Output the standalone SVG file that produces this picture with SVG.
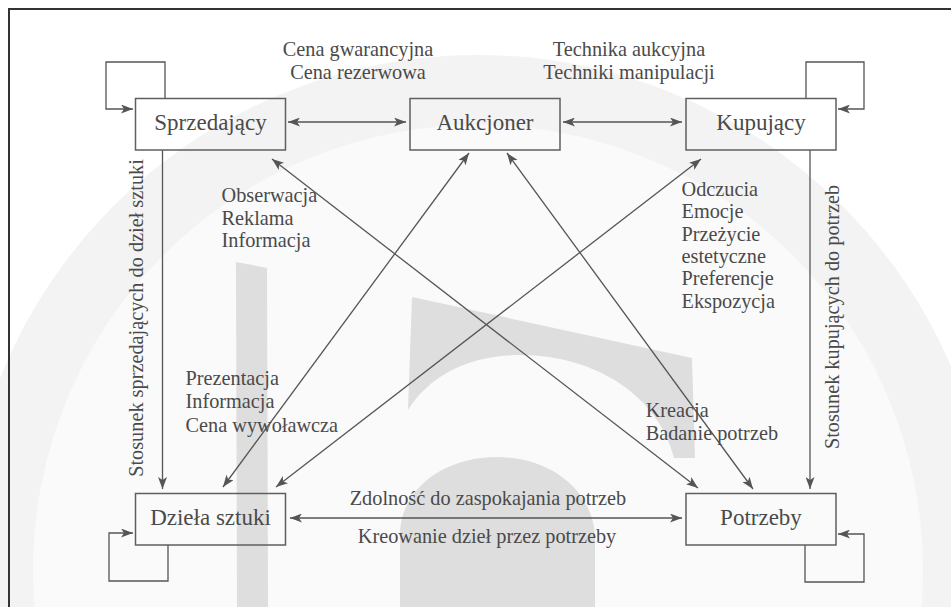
<svg xmlns="http://www.w3.org/2000/svg" width="951" height="607" viewBox="0 0 951 607">
<defs>
<style>
.wm { fill: #dedede; stroke: none; }
.frame { fill: none; stroke: #333333; stroke-width: 2; }
.box { fill: none; stroke: #5f5f5f; stroke-width: 1.5; }
.node { font-family: "Liberation Serif", "DejaVu Serif", "Times New Roman", serif; font-size: 23px; fill: #4a4a4a; text-anchor: middle; }
.lbl { font-family: "Liberation Serif", "DejaVu Serif", "Times New Roman", serif; font-size: 20.3px; fill: #4a4a4a; }
.mid { text-anchor: middle; }
.conn { fill: none; stroke: #555555; stroke-width: 1.3; }
.one { marker-end: url(#ah); }
.two { marker-start: url(#ah); marker-end: url(#ah); }
</style>
<marker id="ah" viewBox="0 0 12 9" refX="12" refY="4.5" markerWidth="12" markerHeight="9" markerUnits="userSpaceOnUse" orient="auto-start-reverse">
<path d="M0,0 L12,4.5 L0,9 L3,4.5 Z" fill="#555555"/>
</marker>
</defs>
<rect x="0" y="0" width="951" height="607" fill="#ffffff"/>
<g id="watermark">
<circle cx="478" cy="570" r="480" fill="#fafafa" stroke="#f3f3f3" stroke-width="70"/>
<path class="wm" d="M236,262 L267,268 L268,607 L237,607 Z"/>
<path class="wm" d="M412,297 L692,358 L695,458 L674,458 C660,400 600,355 520,355 C470,355 430,375 408,410 Z"/>
<path class="wm" d="M400,607 L400,535 C400,488 445,457 497,457 C552,457 595,492 595,540 L595,607 Z"/>
</g>
<path class="frame" d="M9,607 V9 H951"/>
<g id="connectors">
<line class="conn two" x1="288" y1="122" x2="406" y2="122"/>
<line class="conn two" x1="563" y1="122" x2="682" y2="122"/>
<line class="conn two" x1="290" y1="518" x2="682" y2="518"/>
<line class="conn one" x1="162.5" y1="150" x2="162.5" y2="489"/>
<line class="conn one" x1="810" y1="150" x2="810" y2="489"/>
<line class="conn two" x1="272" y1="159" x2="698" y2="488"/>
<line class="conn two" x1="469" y1="153" x2="223" y2="487"/>
<line class="conn two" x1="507" y1="153" x2="753" y2="489"/>
<line class="conn two" x1="701" y1="159" x2="276" y2="487"/>
<path class="conn one" d="M165,98 V62 H106 V109 H133"/>
<path class="conn one" d="M806,98 V62 H864 V109 H838"/>
<path class="conn one" d="M168,545 V581 H109 V533 H133"/>
<path class="conn one" d="M805,545 V582 H864 V534 H838"/>
</g>
<g id="sprzedajacy">
<rect class="box" x="135.5" y="98.5" width="150" height="51.5"/>
<text class="node" x="210.5" y="129.5">Sprzedający</text>
</g>
<g id="aukcjoner">
<rect class="box" x="410" y="98.5" width="150" height="51.5"/>
<text class="node" x="485" y="129.5">Aukcjoner</text>
</g>
<g id="kupujacy">
<rect class="box" x="686" y="98.5" width="150" height="51.5"/>
<text class="node" x="761" y="129.5">Kupujący</text>
</g>
<g id="dziela">
<rect class="box" x="135.5" y="493.5" width="150" height="51.5"/>
<text class="node" x="210.5" y="524.5">Dzieła sztuki</text>
</g>
<g id="potrzeby">
<rect class="box" x="686" y="493.5" width="150" height="51.5"/>
<text class="node" x="761" y="524.5">Potrzeby</text>
</g>
<g id="labels">
<text class="lbl mid" x="358" y="55.5">Cena gwarancyjna</text>
<text class="lbl mid" x="358" y="78.5">Cena rezerwowa</text>
<text class="lbl mid" x="629" y="55.5">Technika aukcyjna</text>
<text class="lbl mid" x="629" y="78.5">Techniki manipulacji</text>
<text class="lbl" x="221.5" y="202">Obserwacja</text>
<text class="lbl" x="221.5" y="224.5">Reklama</text>
<text class="lbl" x="221.5" y="246.5">Informacja</text>
<text class="lbl" x="185.5" y="385">Prezentacja</text>
<text class="lbl" x="185.5" y="408.3">Informacja</text>
<text class="lbl" x="185.5" y="431.5">Cena wywoławcza</text>
<text class="lbl" x="681.5" y="195.7">Odczucia</text>
<text class="lbl" x="681.5" y="218.1">Emocje</text>
<text class="lbl" x="681.5" y="240.5">Przeżycie</text>
<text class="lbl" x="681.5" y="262.9">estetyczne</text>
<text class="lbl" x="681.5" y="285.3">Preferencje</text>
<text class="lbl" x="681.5" y="307.7">Ekspozycja</text>
<text class="lbl" x="645.7" y="417">Kreacja</text>
<text class="lbl" x="645.7" y="440">Badanie potrzeb</text>
<text class="lbl mid" x="488" y="505">Zdolność do zaspokajania potrzeb</text>
<text class="lbl mid" x="487" y="543">Kreowanie dzieł przez potrzeby</text>
<text class="lbl mid" x="143" y="318" transform="rotate(-90 143 318)">Stosunek sprzedających do dzieł sztuki</text>
<text class="lbl mid" x="839" y="317" transform="rotate(-90 839 317)">Stosunek kupujących do potrzeb</text>
</g>
</svg>
